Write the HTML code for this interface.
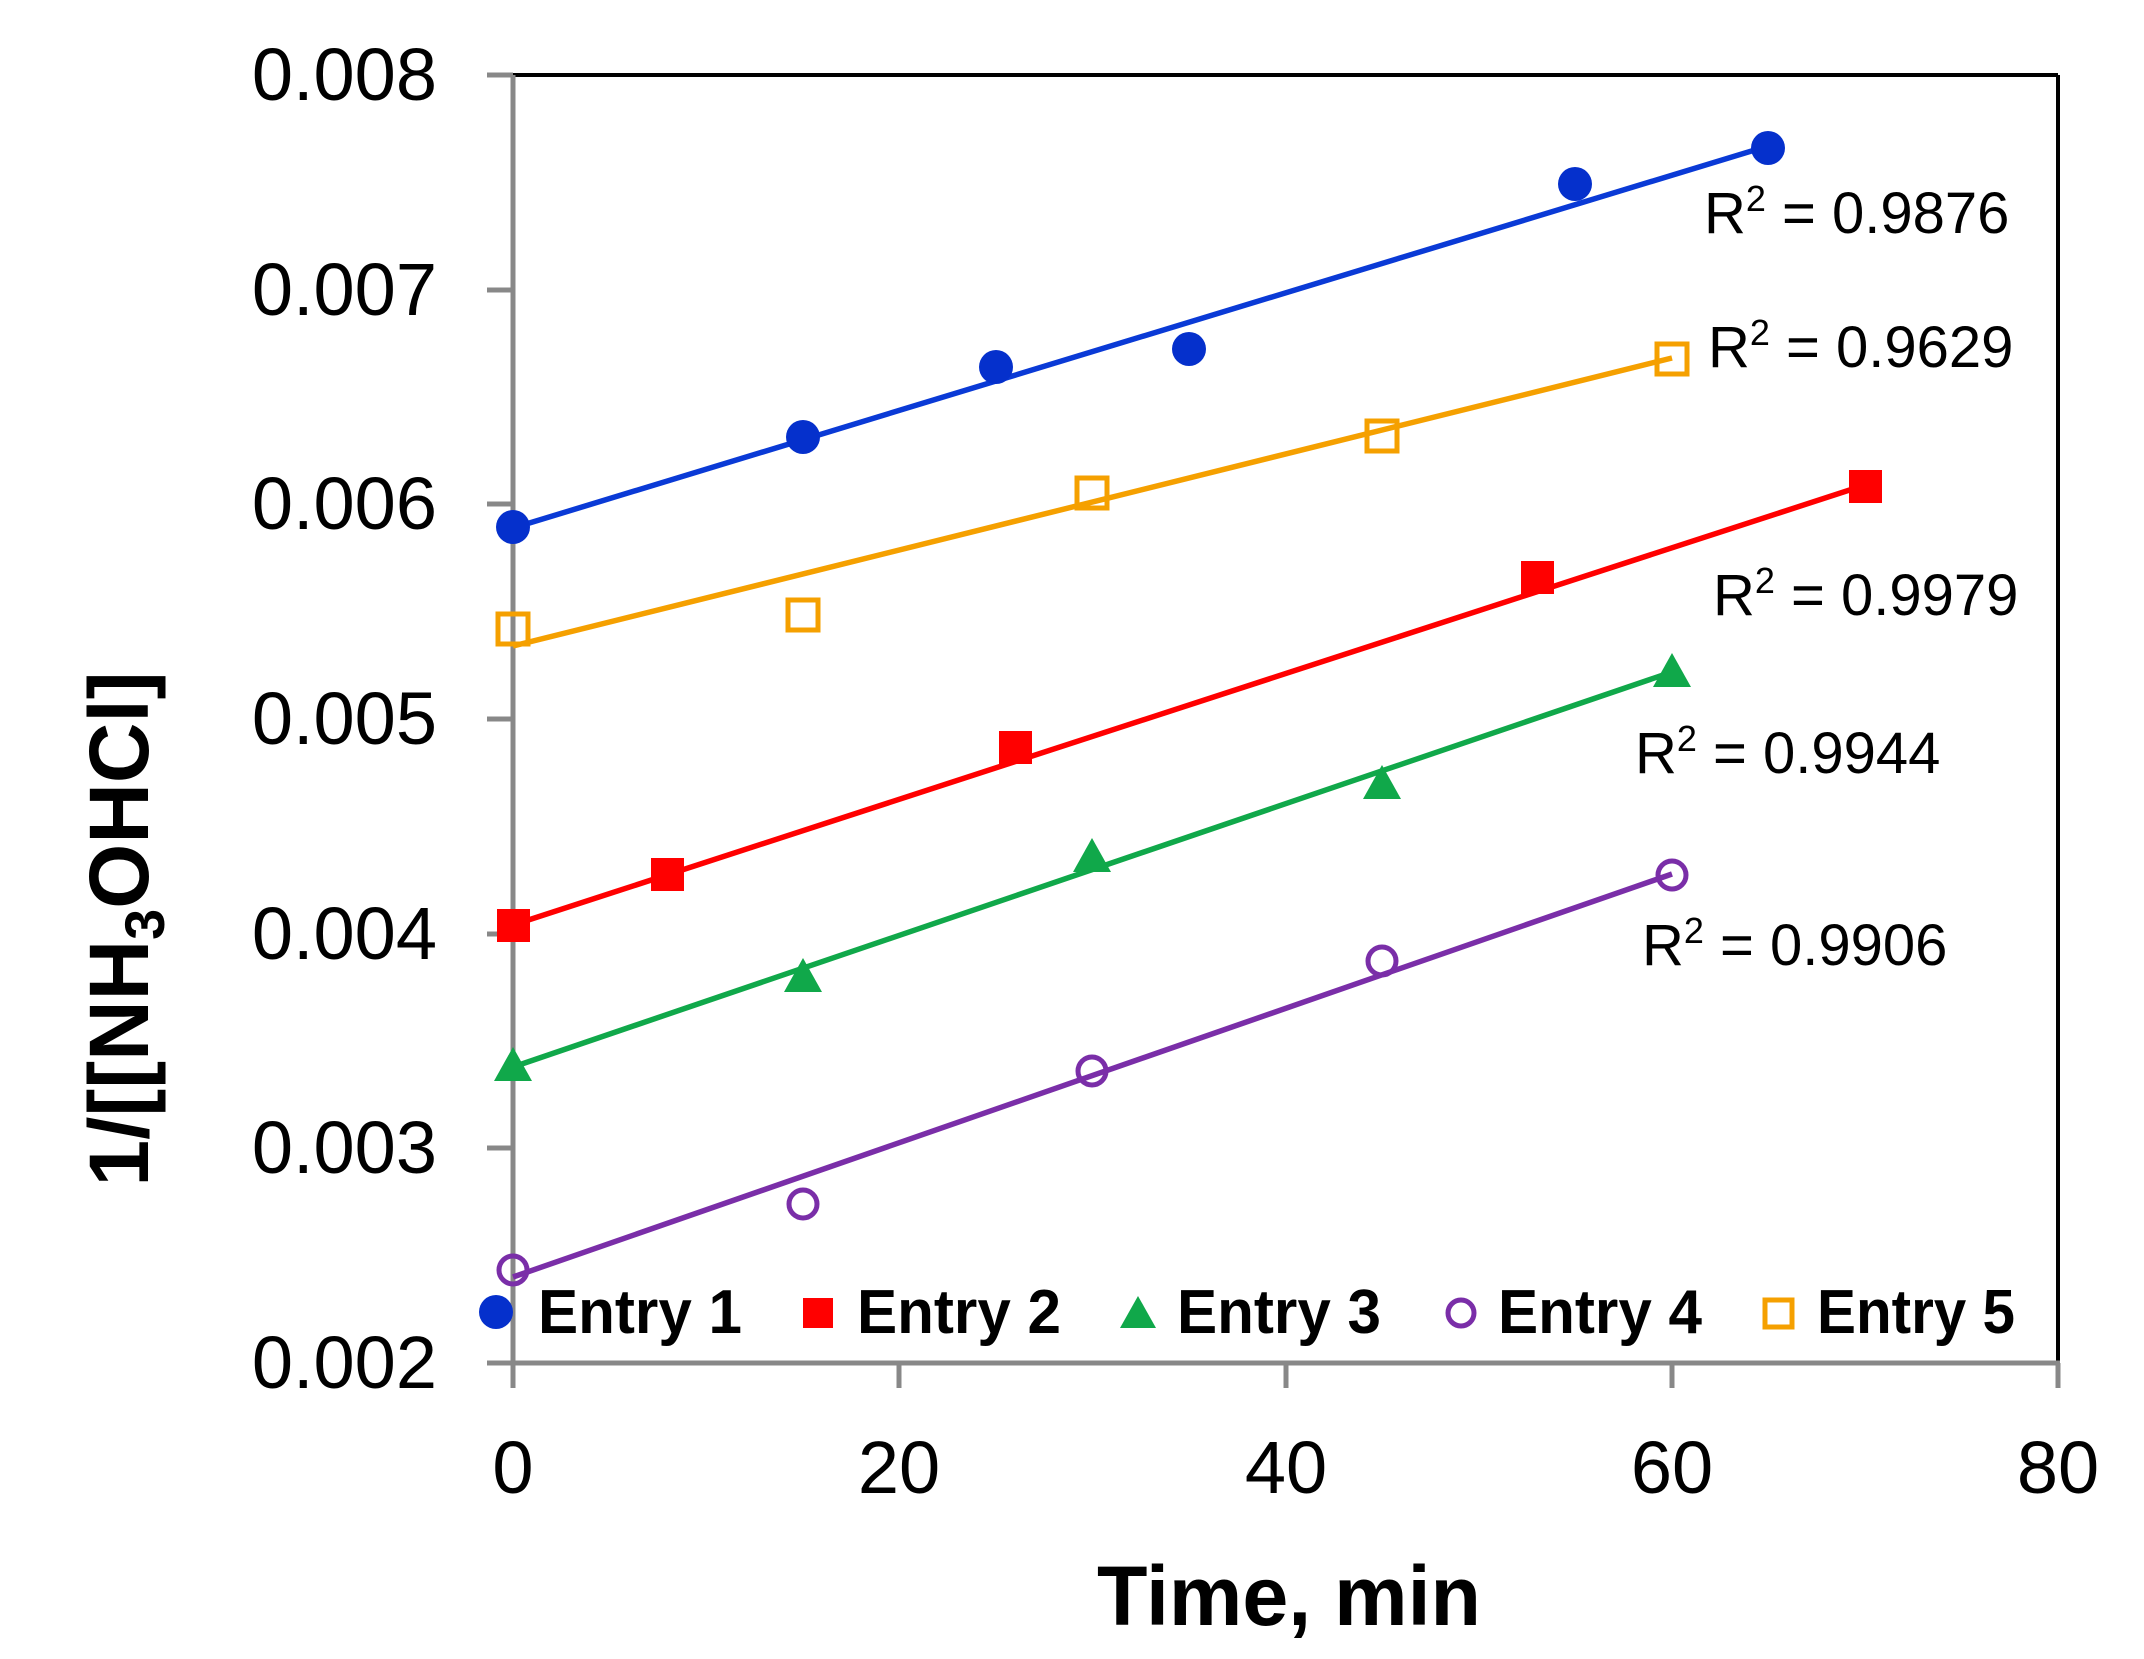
<!DOCTYPE html>
<html><head><meta charset="utf-8"><style>html,body{margin:0;padding:0;background:#fff}svg{display:block}</style></head>
<body>
<svg width="2144" height="1659" viewBox="0 0 2144 1659" xmlns="http://www.w3.org/2000/svg" font-family="'Liberation Sans', sans-serif">
<rect width="2144" height="1659" fill="#fff"/>
<line x1="513" y1="75" x2="2058" y2="75" stroke="#000" stroke-width="4"/>
<line x1="2058" y1="75" x2="2058" y2="1363" stroke="#000" stroke-width="4"/>
<line x1="513" y1="75" x2="513" y2="1365" stroke="#888" stroke-width="5"/>
<line x1="511" y1="1363" x2="2060" y2="1363" stroke="#888" stroke-width="5"/>
<g stroke="#888" stroke-width="5">
<line x1="487" y1="75" x2="513" y2="75"/><line x1="487" y1="290" x2="513" y2="290"/>
<line x1="487" y1="504" x2="513" y2="504"/><line x1="487" y1="719" x2="513" y2="719"/>
<line x1="487" y1="934" x2="513" y2="934"/><line x1="487" y1="1148" x2="513" y2="1148"/>
<line x1="487" y1="1363" x2="513" y2="1363"/>
<line x1="513" y1="1363" x2="513" y2="1388"/><line x1="899" y1="1363" x2="899" y2="1388"/>
<line x1="1286" y1="1363" x2="1286" y2="1388"/><line x1="1672" y1="1363" x2="1672" y2="1388"/>
<line x1="2058" y1="1363" x2="2058" y2="1388"/>
</g>
<g font-size="74" text-anchor="end" fill="#000">
<text x="437" y="100">0.008</text><text x="437" y="315">0.007</text>
<text x="437" y="529">0.006</text><text x="437" y="744">0.005</text>
<text x="437" y="959">0.004</text><text x="437" y="1173">0.003</text>
<text x="437" y="1388">0.002</text>
</g>
<g font-size="74" text-anchor="middle" fill="#000">
<text x="513" y="1493">0</text><text x="899" y="1493">20</text><text x="1286" y="1493">40</text>
<text x="1672" y="1493">60</text><text x="2058" y="1493">80</text>
</g>
<text x="1289" y="1625" font-size="84" font-weight="bold" text-anchor="middle" textLength="384" lengthAdjust="spacingAndGlyphs">Time, min</text>
<text transform="translate(148,929) rotate(-90)" font-size="84" font-weight="bold" text-anchor="middle" textLength="515" lengthAdjust="spacingAndGlyphs">1/[[NH<tspan font-size="56" dy="16">3</tspan><tspan dy="-16">OHCl]</tspan></text>
<g stroke-width="5.5" fill="none">
<line x1="513" y1="528" x2="1768" y2="146" stroke="#0a3ad6"/>
<line x1="513" y1="646" x2="1672" y2="358" stroke="#f5a000"/>
<line x1="513" y1="925" x2="1865" y2="485" stroke="#ff0000"/>
<line x1="513" y1="1067" x2="1672" y2="672" stroke="#10a84a"/>
<line x1="513" y1="1277" x2="1672" y2="874" stroke="#7a2ea8"/>
</g>
<g fill="#0530cc">
<circle cx="513" cy="527" r="17"/><circle cx="803" cy="437" r="17"/><circle cx="996" cy="367" r="17"/>
<circle cx="1189" cy="349" r="17"/><circle cx="1575" cy="184" r="17"/><circle cx="1768" cy="148" r="17"/>
</g>
<g fill="none" stroke="#f5a000" stroke-width="5">
<rect x="498" y="614" width="30" height="30"/><rect x="788" y="600" width="30" height="30"/>
<rect x="1077" y="478" width="30" height="30"/><rect x="1367" y="421" width="30" height="30"/>
<rect x="1657" y="344" width="30" height="30"/>
</g>
<g fill="#ff0000">
<rect x="497" y="909" width="33" height="33"/><rect x="651" y="858" width="33" height="33"/>
<rect x="999" y="731" width="33" height="33"/><rect x="1521" y="561" width="33" height="33"/>
<rect x="1849" y="470" width="33" height="33"/>
</g>
<g fill="#10a84a">
<polygon points="513,1047 532,1081 494,1081"/><polygon points="803,958 822,992 784,992"/>
<polygon points="1092,838 1111,872 1073,872"/><polygon points="1382,765 1401,799 1363,799"/>
<polygon points="1672,653 1691,687 1653,687"/>
</g>
<g fill="none" stroke="#7a2ea8" stroke-width="5">
<circle cx="513" cy="1270" r="14"/><circle cx="803" cy="1204" r="14"/><circle cx="1092" cy="1071" r="14"/>
<circle cx="1382" cy="961" r="14"/><circle cx="1672" cy="875" r="14"/>
</g>
<g font-size="58" fill="#000">
<text x="1704" y="233">R<tspan font-size="36" dy="-22">2</tspan><tspan dy="22"> = 0.9876</tspan></text>
<text x="1708" y="367">R<tspan font-size="36" dy="-22">2</tspan><tspan dy="22"> = 0.9629</tspan></text>
<text x="1713" y="615">R<tspan font-size="36" dy="-22">2</tspan><tspan dy="22"> = 0.9979</tspan></text>
<text x="1635" y="773">R<tspan font-size="36" dy="-22">2</tspan><tspan dy="22"> = 0.9944</tspan></text>
<text x="1642" y="965">R<tspan font-size="36" dy="-22">2</tspan><tspan dy="22"> = 0.9906</tspan></text>
</g>
<circle cx="496" cy="1312" r="17" fill="#0530cc"/>
<rect x="803" y="1298" width="30" height="30" fill="#ff0000"/>
<polygon points="1138,1296 1156,1328 1120,1328" fill="#10a84a"/>
<circle cx="1461" cy="1313" r="13" fill="none" stroke="#7a2ea8" stroke-width="5"/>
<rect x="1765" y="1300" width="27" height="27" fill="none" stroke="#f5a000" stroke-width="5"/>
<g font-size="62" font-weight="bold" fill="#000">
<text x="538" y="1333" textLength="204" lengthAdjust="spacingAndGlyphs">Entry 1</text>
<text x="857" y="1333" textLength="204" lengthAdjust="spacingAndGlyphs">Entry 2</text>
<text x="1177" y="1333" textLength="204" lengthAdjust="spacingAndGlyphs">Entry 3</text>
<text x="1498" y="1333" textLength="204" lengthAdjust="spacingAndGlyphs">Entry 4</text>
<text x="1817" y="1333" textLength="198" lengthAdjust="spacingAndGlyphs">Entry 5</text>
</g>
</svg>
</body></html>
